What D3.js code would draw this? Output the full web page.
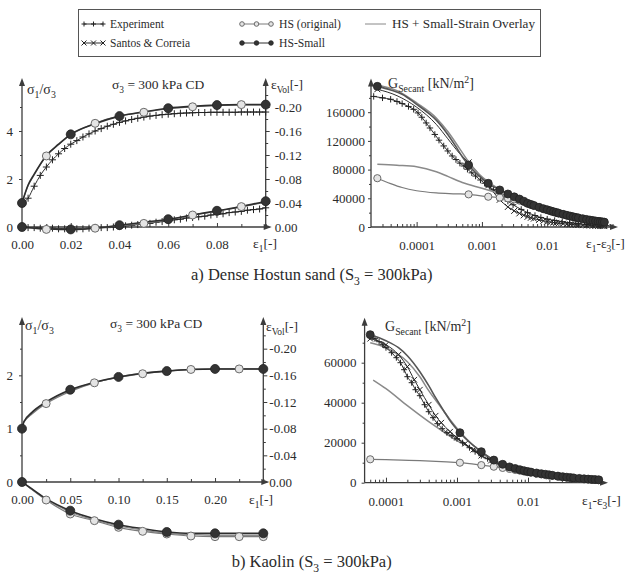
<!DOCTYPE html>
<html><head><meta charset="utf-8">
<script src="https://cdn.jsdelivr.net/npm/d3@7/dist/d3.min.js"></script>
<style>
body{margin:0;background:#fff}
svg{display:block}
</style>
</head><body>
<svg id="c" width="632" height="576"></svg>
<script>
// ================= DATA =================
const legendLabels = ["Experiment","Santos & Correia","HS (original)","HS-Small","HS + Small-Strain Overlay"];

// ---- Panel a (Dense Hostun sand) : stress ratio / volumetric strain vs eps1
const aExpEps = [0,0.0025,0.005,0.0075,0.01,0.0125,0.015,0.0175,0.02,0.0225,0.025,0.0275,0.03,0.0325,0.035,0.0375,0.04,0.0425,0.045,0.0475,0.05,0.0525,0.055,0.0575,0.06,0.0625,0.065,0.0675,0.07,0.0725,0.075,0.0775,0.08,0.0825,0.085,0.0875,0.09,0.0925,0.095,0.0975,0.1];
const aExpRatio = [1.0,1.2,1.7,2.15,2.5,2.8,3.05,3.27,3.45,3.6,3.75,3.88,4.0,4.1,4.2,4.28,4.36,4.42,4.48,4.53,4.58,4.62,4.65,4.68,4.7,4.72,4.74,4.75,4.76,4.77,4.77,4.78,4.78,4.78,4.78,4.78,4.79,4.79,4.79,4.79,4.79];
const aExpVol = [0,0.001,0.001,0.002,0.002,0.002,0.003,0.003,0.003,0.003,0.003,0.002,0.002,0.001,0.001,0.0,-0.001,-0.002,-0.003,-0.004,-0.005,-0.006,-0.008,-0.009,-0.011,-0.012,-0.013,-0.015,-0.016,-0.017,-0.018,-0.02,-0.021,-0.022,-0.024,-0.025,-0.026,-0.028,-0.029,-0.03,-0.032];
const aModelEps = [0,0.0025,0.005,0.01,0.015,0.02,0.03,0.04,0.05,0.06,0.07,0.08,0.09,0.1];
const aHsSmallRatio = [1.0,1.75,2.2,2.98,3.45,3.86,4.3,4.62,4.8,4.95,5.03,5.08,5.1,5.1];
const aHsOrigRatio  = [1.0,1.72,2.17,2.96,3.43,3.84,4.32,4.63,4.78,4.93,5.01,5.07,5.1,5.1];
const aHsSmallVol = [0,0.001,0.002,0.003,0.004,0.004,0.002,-0.003,-0.008,-0.013,-0.02,-0.027,-0.034,-0.043];
const aHsOrigVol  = [0,0.001,0.002,0.004,0.004,0.004,0.002,-0.002,-0.006,-0.012,-0.02,-0.026,-0.034,-0.041];
const aHsSmallMarkEps = [0,0.02,0.04,0.06,0.08,0.1];
const aHsOrigMarkEps = [0.01,0.03,0.05,0.07,0.09];

// ---- Panel a : secant shear modulus vs eps1-eps3 (log)
const aSimStrain = [0.000625,0.00125,0.001875,0.0025,0.003125,0.00375,0.004375,0.005,0.005625,0.00625,0.0075,0.00875,0.01,0.01125,0.0125,0.01375,0.015,0.0175,0.02,0.0225,0.025,0.0275,0.03,0.035,0.04,0.045,0.05,0.055,0.06,0.065,0.07,0.075];
const aHsSmallPreStrain = [2.5e-5,4e-5,6e-5,1e-4,1.5e-4,2e-4,3e-4,4e-4,5e-4];
const aHsSmallPreG = [196000,191000,185000,171000,159000,149000,129000,112000,98000];
const aHsSmallSimG = [86400,60900,51600,46000,42000,39000,36000,33000,31500,30000,27500,25500,24000,22500,21300,20300,19300,17700,16300,15200,14200,13400,12700,11500,10500,9700,9000,8400,7900,7500,7100,6800];
const aHsOrigPreStrain = [2.5e-5,4e-5,6e-5,1e-4,2e-4,4e-4];
const aHsOrigPreG = [68000,60500,55000,50500,47500,46300];
const aHsOrigSimG = [45500,42200,41000,40000,38500,36800,35000,32800,31200,29700,27300,25300,23800,22300,21100,20100,19100,17500,16100,15000,14000,13200,12500,11300,10300,9500,8800,8200,7700,7300,6900,6600];
const aSantosPreStrain = [2.5e-5,5e-5,1e-4,2e-4,3e-4,4.5e-4];
const aSantosPreG = [192000,183000,167000,143000,123000,103000];
const aSantosSimG = [90000,58000,38000,28000,22500,19000,16300,14200,12900,11700,9900,8600,7600,6800,6200,5700,5300,4600,4100,3700,3400,3100,2900,2600,2300,2100,1900,1750,1600,1500,1400,1300];
const aExpGStrain = [2.2e-5,3e-5,4e-5,5e-5,6e-5,7.5e-5,9e-5,1.05e-4,1.2e-4,1.4e-4,1.6e-4,1.9e-4,2.2e-4,2.6e-4,3e-4,3.5e-4,4e-4,4.6e-4,5.3e-4,6e-4,7e-4,8e-4,9.5e-4,1.1e-3,1.3e-3,1.5e-3,1.8e-3,2.1e-3,2.5e-3,3e-3,4e-3,5e-3,6.5e-3,8e-3,0.01,0.013,0.017,0.022,0.03,0.04,0.05,0.065,0.08];
const aExpG = [182000,180000,178000,175000,172000,168000,164000,159000,153000,145000,138000,129000,121000,113000,106000,99000,94000,89000,85000,80500,75500,71000,65500,61000,56500,52000,46500,41500,36000,31000,24500,20000,16000,13200,11000,9000,7200,5800,4500,3500,2900,2300,1900];
const aOverlayTopStrain = [2.5e-5,5e-5,1e-4,2e-4,3e-4,4.5e-4,6.25e-4,9e-4,1.25e-3,1.875e-3,2.5e-3,3.5e-3,5e-3,0.0075,0.01,0.015,0.025,0.04,0.075];
const aOverlayTopG = [198000,190000,173000,152000,133000,110000,91000,74000,63000,52500,46500,40000,33500,27800,24300,19500,14400,10600,6900];
const aOverlayLowStrain = [2.5e-5,5e-5,1e-4,2e-4,3e-4,5e-4,1e-3,2e-3,3e-3,5e-3,0.0075,0.01,0.015,0.025,0.04,0.075];
const aOverlayLowG = [87400,86000,84000,77000,70500,62000,54000,46000,41500,33500,27800,24300,19500,14400,10600,6900];

// ---- Panel b (Kaolin) : stress ratio / volumetric strain vs eps1
const bModelEps = [0,0.002,0.01,0.025,0.05,0.075,0.1,0.125,0.15,0.175,0.2,0.225,0.25];
const bHsSmallRatio = [1.0,1.13,1.3,1.5,1.73,1.87,1.97,2.04,2.08,2.11,2.12,2.12,2.12];
const bHsOrigRatio  = [1.1,1.14,1.27,1.47,1.7,1.86,1.96,2.03,2.08,2.11,2.12,2.12,2.12];
const bOverlayRatio = [1.05,1.12,1.28,1.49,1.72,1.86,1.97,2.04,2.08,2.11,2.12,2.12,2.12];
const bHsSmallVol = [0,0.002,0.01,0.025,0.043,0.055,0.064,0.07,0.075,0.077,0.077,0.077,0.077];
const bHsOrigVol  = [0,0.002,0.011,0.027,0.048,0.058,0.068,0.074,0.078,0.081,0.082,0.082,0.082];
const bOverlayVol = [0,0.002,0.011,0.026,0.045,0.057,0.066,0.072,0.077,0.079,0.08,0.08,0.08];
const bHsSmallMarkEps = [0,0.05,0.1,0.15,0.2,0.25];
const bHsOrigMarkRatioEps = [0.025,0.075,0.125,0.175,0.225];
const bHsOrigMarkVolEps = [0.025,0.05,0.075,0.1,0.125,0.15,0.175,0.2,0.225,0.25];

// ---- Panel b : secant shear modulus vs eps1-eps3 (log)
const bSimStrain = [0.0011,0.0022,0.0033,0.0044,0.0055,0.0066,0.0077,0.0088,0.0099,0.011,0.0132,0.0154,0.0176,0.0198,0.022,0.0264,0.0308,0.0352,0.0396,0.044,0.0528,0.0616,0.0704,0.0792,0.088,0.099];
const bHsSmallPreStrain = [6e-5,8e-5,1e-4,1.5e-4,2e-4,3e-4,4e-4,5e-4,6.5e-4,8e-4];
const bHsSmallPreG = [74000,72500,71000,67500,63500,55500,48500,42500,36000,31000];
const bHsSmallSimG = [25000,15500,11300,9200,7900,7100,6500,6000,5600,5300,4850,4500,4200,3950,3700,3300,3000,2750,2550,2400,2150,1950,1800,1650,1550,1450];
const bHsOrigPreStrain = [6e-5,1e-4,3e-4,6e-4];
const bHsOrigPreG = [11700,11500,11000,10500];
const bHsOrigSimG = [10000,8800,8000,7400,6900,6400,6000,5600,5300,5000,4500,4150,3850,3600,3400,3000,2750,2550,2350,2200,1950,1750,1600,1500,1400,1300];
const bExpGStrain = [6e-5,7e-5,8e-5,9e-5,1e-4,1.2e-4,1.4e-4,1.6e-4,1.8e-4,2e-4,2.3e-4,2.6e-4,3e-4,3.5e-4,4e-4,4.6e-4,5.3e-4,6.2e-4,7.2e-4,8.5e-4,1e-3,1.2e-3,1.5e-3,1.8e-3,2.2e-3,2.7e-3,3.3e-3,4e-3,5e-3,6e-3,7.5e-3,0.01,0.013,0.017,0.022,0.03,0.04,0.055,0.075,0.1];
const bExpG = [73000,72000,70500,69000,67500,65000,62500,60000,56500,53000,50000,46500,43500,39000,35500,32500,29500,27000,25000,23500,22000,20000,17500,15500,13500,12000,10500,9300,8000,7100,6200,5200,4400,3700,3100,2500,2000,1600,1300,1100];
const bSantosStrain = [6e-5,1e-4,1.5e-4,2e-4,2.5e-4,3e-4,4e-4,5e-4,6e-4,8e-4,1e-3,1.3e-3,1.7e-3,2.2e-3,3e-3,4e-3,5.5e-3,7.5e-3,0.01,0.014,0.02,0.03,0.045,0.07,0.1];
const bSantosG = [72000,69000,64000,58000,51500,46500,39000,33500,30000,25500,22500,19500,16500,13500,11000,9000,7300,6000,5000,4000,3100,2400,1800,1350,1100];
const bOverlayMidStrain = [6e-5,1e-4,2e-4,3e-4,4e-4,6e-4,8e-4,1.1e-3,1.6e-3,2.2e-3,3.3e-3,5e-3,0.01,0.02,0.05,0.1];
const bOverlayMidG = [70000,67500,60500,53000,46000,37500,31500,25500,19500,15500,11300,8200,5500,3900,2100,1400];
const bOverlayLowStrain = [6.6e-5,1e-4,2e-4,4e-4,6.4e-4,1e-3,1.9e-3,3e-3,5e-3,0.01,0.02,0.05,0.1];
const bOverlayLowG = [51300,47000,38500,30500,25500,21000,16000,12000,8500,5600,3900,2100,1400];

// Tick values / labels
const aRatioTicks = [0,2,4];
const aRatioMinor = [1,3,5];
const aVolTicks = [0,-0.04,-0.08,-0.12,-0.16,-0.2];
const aVolMinor = [-0.02,-0.06,-0.1,-0.14,-0.18,-0.22];
const aEpsTicks = [0,0.02,0.04,0.06,0.08];
const aEpsMinor = [0.01,0.03,0.05,0.07,0.09,0.1];
const aGTicks = [0,40000,80000,120000,160000];
const aGMinor = [20000,60000,100000,140000,180000];
const bRatioTicks = [0,1,2];
const bRatioMinor = [0.5,1.5,2.5];
const bVolTicks = [0,-0.04,-0.08,-0.12,-0.16,-0.2];
const bVolMinor = [-0.02,-0.06,-0.1,-0.14,-0.18,-0.22];
const bEpsTicks = [0,0.05,0.1,0.15,0.2];
const bEpsMinor = [0.025,0.075,0.125,0.175,0.225,0.25];
const bGTicks = [0,20000,40000,60000];
const bGMinor = [10000,30000,50000,70000];
const strainTicks = [1e-4,1e-3,1e-2];
const strainTickLabels = ["0.0001","0.001","0.01"];

// ================= DRAWING =================
const FONT = "'Liberation Serif', 'DejaVu Serif', 'Noto Serif', Tinos, serif";
const svg = d3.select('#c').attr('font-family', FONT);
const AX = '#3c3c3c';
const DARK = '#2e2e2e';
const GRAYL = '#7a7a7a';
const TXT = '#2b2b2b';

function richText(g, x, y, parts, size, anchor) {
  const t = g.append('text').attr('x', x).attr('y', y).attr('font-size', size)
    .attr('font-family', FONT).attr('fill', TXT);
  if (anchor) t.attr('text-anchor', anchor);
  let cur = 0;
  parts.forEach(([s, k]) => {
    const off = k === 'sub' ? size * 0.28 : (k === 'sup' ? -size * 0.38 : 0);
    t.append('tspan').attr('dy', off - cur).attr('font-size', k === 'n' ? size : size * 0.7).text(s);
    cur = off;
  });
  return t;
}
function arrowUp(g, x, y) {
  g.append('path').attr('d', `M${x},${y - 5}L${x - 3},${y + 3}L${x + 3},${y + 3}Z`).attr('fill', AX);
}
function arrowRight(g, x, y) {
  g.append('path').attr('d', `M${x + 5},${y}L${x - 3},${y - 3}L${x - 3},${y + 3}Z`).attr('fill', AX);
}
function vline(g, x, y1, y2) { g.append('line').attr('x1', x).attr('x2', x).attr('y1', y1).attr('y2', y2).attr('stroke', AX).attr('stroke-width', 1.3); }
function hline(g, y, x1, x2) { g.append('line').attr('x1', x1).attr('x2', x2).attr('y1', y).attr('y2', y).attr('stroke', AX).attr('stroke-width', 1.3); }
function styleAxis(sel, size) {
  sel.select('.domain').remove();
  sel.attr('font-family', FONT);
  sel.selectAll('line').attr('stroke', AX).attr('stroke-width', 1);
  sel.selectAll('text').attr('font-family', FONT).attr('font-size', size).attr('fill', TXT);
}
function drawLine(g, xs, ys, xS, yS, stroke, w) {
  g.append('path').datum(d3.zip(xs, ys)).attr('fill', 'none').attr('stroke', stroke).attr('stroke-width', w)
    .attr('stroke-linejoin', 'round')
    .attr('d', d3.line().x(d => xS(d[0])).y(d => yS(d[1])).curve(d3.curveMonotoneX));
}
function drawMarks(g, pts, xS, yS, type, r) {
  const sel = g.append('g').selectAll('g').data(pts).join('g')
    .attr('transform', d => `translate(${xS(d[0])},${yS(d[1])})`);
  if (type === 'filled') sel.append('circle').attr('r', r).attr('fill', '#333').attr('stroke', '#222').attr('stroke-width', 0.8);
  else if (type === 'open') sel.append('circle').attr('r', r).attr('fill', '#e4e4e4').attr('stroke', '#6a6a6a').attr('stroke-width', 1);
  else if (type === 'plus') sel.append('path').attr('d', `M${-r},0H${r}M0,${-r}V${r}`).attr('stroke', '#222').attr('stroke-width', 1);
  else if (type === 'cross') sel.append('path').attr('d', `M${-r},${-r}L${r},${r}M${-r},${r}L${r},${-r}`).attr('stroke', '#222').attr('stroke-width', 1);
}
function pick(xs, ys, which) { return which.map(v => [v, ys[xs.indexOf(v)]]); }

// ---------- Legend ----------
(function () {
  const g = svg.append('g');
  g.append('rect').attr('x', 78.5).attr('y', 9.5).attr('width', 462).attr('height', 47).attr('fill', 'none').attr('stroke', '#555').attr('stroke-width', 1);
  const lx = d3.scaleLinear([0, 1], [0, 1]);
  const items = [
    {x0: 84, x1: 103, y: 24, type: 'plus', line: DARK, label: legendLabels[0], tx: 110, w: 54},
    {x0: 84, x1: 103, y: 43, type: 'cross', line: DARK, label: legendLabels[1], tx: 110, w: 80},
    {x0: 242, x1: 271, y: 24, type: 'open', line: GRAYL, label: legendLabels[2], tx: 279, w: 62},
    {x0: 242, x1: 271, y: 43, type: 'filled', line: DARK, label: legendLabels[3], tx: 279, w: 46},
    {x0: 365, x1: 386, y: 24, type: null, line: '#888', label: legendLabels[4], tx: 392, w: 143}
  ];
  items.forEach(it => {
    g.append('line').attr('x1', it.x0).attr('x2', it.x1).attr('y1', it.y).attr('y2', it.y).attr('stroke', it.line).attr('stroke-width', 1);
    if (it.type) {
      const mid = (it.x0 + it.x1) / 2;
      drawMarks(g, [[it.x0, it.y], [mid, it.y], [it.x1, it.y]], lx, lx, it.type, it.type === 'plus' || it.type === 'cross' ? 2.5 : 2.3);
    }
    richText(g, it.tx, it.y + 4, [[it.label, 'n']], 12.5)
      .attr('textLength', it.w).attr('lengthAdjust', 'spacingAndGlyphs');
  });
})();

// ---------- generic left panel ----------
function leftPanel(o) {
  const g = svg.append('g');
  const x = d3.scaleLinear(o.xDom, o.xRange);
  const yL = d3.scaleLinear(o.yLDom, o.yRange);
  const yR = d3.scaleLinear(o.yRDom, o.yRange);
  const y0 = o.yRange[0], yTop = o.yRange[1];
  const xl = o.xRange[0], xr = o.xRange[1];
  vline(g, xl, y0, yTop + 1); arrowUp(g, xl, yTop);
  vline(g, xr, y0, yTop + 1); arrowUp(g, xr, yTop);
  hline(g, y0, xl, xr + 1); arrowRight(g, xr + 1, y0);
  styleAxis(g.append('g').attr('transform', `translate(${xl},0)`).call(d3.axisLeft(yL).tickValues(o.lTicks).tickSize(3).tickPadding(o.lPad).tickSizeOuter(0).tickFormat(d => String(d))), 13);
  styleAxis(g.append('g').attr('transform', `translate(${xl},0)`).call(d3.axisLeft(yL).tickValues(o.lMinor).tickSize(2).tickSizeOuter(0).tickFormat('')), 13);
  styleAxis(g.append('g').attr('transform', `translate(${xr},0)`).call(d3.axisRight(yR).tickValues(o.rTicks).tickSize(4).tickPadding(o.rPad).tickSizeOuter(0)
    .tickFormat(d => d === 0 ? '0.00' : '-' + Math.abs(d).toFixed(2))), 13);
  styleAxis(g.append('g').attr('transform', `translate(${xr},0)`).call(d3.axisRight(yR).tickValues(o.rMinor).tickSize(2.5).tickSizeOuter(0).tickFormat('')), 13);
  styleAxis(g.append('g').attr('transform', `translate(0,${y0})`).call(d3.axisBottom(x).tickValues(o.xTicks).tickSize(-4).tickPadding(13).tickSizeOuter(0).tickFormat(d3.format('.2f'))), 13);
  styleAxis(g.append('g').attr('transform', `translate(0,${y0})`).call(d3.axisBottom(x).tickValues(o.xMinor).tickSize(-3).tickSizeOuter(0).tickFormat('')), 13);
  return {g, x, yL, yR};
}

// ---------- generic G panel ----------
function gPanel(o) {
  const g = svg.append('g');
  const x = d3.scaleLog(o.xDom, o.xRange);
  const y = d3.scaleLinear(o.yDom, o.yRange);
  const y0 = o.yRange[0], yTop = o.yRange[1];
  const xl = o.xRange[0];
  vline(g, xl, y0, yTop + 1); arrowUp(g, xl, yTop);
  hline(g, y0, xl, o.xEnd); arrowRight(g, o.xEnd, y0);
  styleAxis(g.append('g').attr('transform', `translate(${xl},0)`).call(d3.axisLeft(y).tickValues(o.yTicks).tickSize(3).tickPadding(o.yPad).tickSizeOuter(0).tickFormat(d => String(d))), 13);
  styleAxis(g.append('g').attr('transform', `translate(${xl},0)`).call(d3.axisLeft(y).tickValues(o.yMinor).tickSize(2).tickSizeOuter(0).tickFormat('')), 13);
  const minor = x.ticks().filter(v => strainTicks.indexOf(v) < 0 && v > o.xDom[0] * 1.01);
  styleAxis(g.append('g').attr('transform', `translate(0,${y0})`).call(d3.axisBottom(x).tickValues(strainTicks).tickSize(-5).tickPadding(14).tickSizeOuter(0)
    .tickFormat((d, i) => strainTickLabels[i])), 13);
  styleAxis(g.append('g').attr('transform', `translate(0,${y0})`).call(d3.axisBottom(x).tickValues(minor).tickSize(-3).tickSizeOuter(0).tickFormat('')), 13);
  return {g, x, y};
}

// ================= Panel a-left =================
(function () {
  const {g, x, yL, yR} = leftPanel({xDom: [0, 0.1], xRange: [22, 265.7], yLDom: [0, 6], yRDom: [0, -0.24], yRange: [227, 83],
    lTicks: aRatioTicks, lMinor: aRatioMinor, rTicks: aVolTicks, rMinor: aVolMinor, xTicks: aEpsTicks, xMinor: aEpsMinor, lPad: 6, rPad: 5});
  drawLine(g, aExpEps, aExpRatio, x, yL, DARK, 1);
  drawLine(g, aExpEps, aExpVol, x, yR, DARK, 1);
  drawMarks(g, d3.zip(aExpEps, aExpRatio).slice(1), x, yL, 'plus', 3.5);
  drawMarks(g, d3.zip(aExpEps, aExpVol).slice(1), x, yR, 'plus', 3.5);
  drawLine(g, aModelEps, aHsOrigRatio, x, yL, GRAYL, 1.2);
  drawLine(g, aModelEps, aHsOrigVol, x, yR, GRAYL, 1.2);
  drawLine(g, aModelEps, aHsSmallRatio, x, yL, DARK, 1.6);
  drawLine(g, aModelEps, aHsSmallVol, x, yR, DARK, 1.6);
  drawMarks(g, pick(aModelEps, aHsOrigRatio, aHsOrigMarkEps), x, yL, 'open', 4);
  drawMarks(g, pick(aModelEps, aHsOrigVol, aHsOrigMarkEps), x, yR, 'open', 4);
  drawMarks(g, pick(aModelEps, aHsSmallRatio, aHsSmallMarkEps), x, yL, 'filled', 4.5);
  drawMarks(g, pick(aModelEps, aHsSmallVol, aHsSmallMarkEps), x, yR, 'filled', 4.5);
  richText(g, 27, 94, [['σ', 'n'], ['1', 'sub'], ['/σ', 'n'], ['3', 'sub']], 14);
  richText(g, 112, 89, [['σ', 'n'], ['3', 'sub'], [' = 300 kPa CD', 'n']], 13.5);
  richText(g, 271, 89, [['ε', 'n'], ['Vol', 'sub'], ['[-]', 'n']], 13.5);
  richText(g, 253, 248, [['ε', 'n'], ['1', 'sub'], ['[-]', 'n']], 13.5);
})();

// ================= Panel a-right =================
(function () {
  const {g, x, y} = gPanel({xDom: [2e-5, 0.1], xRange: [371, 612.5], xEnd: 613, yDom: [0, 200000], yRange: [227, 83.5],
    yTicks: aGTicks, yMinor: aGMinor, yPad: 3});
  const hsSmallS = aHsSmallPreStrain.concat(aSimStrain), hsSmallG = aHsSmallPreG.concat(aHsSmallSimG);
  const hsOrigS = aHsOrigPreStrain.concat(aSimStrain), hsOrigG = aHsOrigPreG.concat(aHsOrigSimG);
  const santosS = aSantosPreStrain.concat(aSimStrain), santosG = aSantosPreG.concat(aSantosSimG);
  drawLine(g, aExpGStrain, aExpG, x, y, DARK, 1);
  drawMarks(g, d3.zip(aExpGStrain, aExpG), x, y, 'plus', 3.2);
  drawLine(g, santosS, santosG, x, y, DARK, 1);
  drawMarks(g, [[santosS[0], santosG[0]]].concat(d3.zip(aSimStrain, aSantosSimG)), x, y, 'cross', 3);
  drawLine(g, aOverlayLowStrain, aOverlayLowG, x, y, '#8a8a8a', 1.5);
  drawLine(g, aOverlayTopStrain, aOverlayTopG, x, y, '#8a8a8a', 1.5);
  drawLine(g, hsOrigS, hsOrigG, x, y, GRAYL, 1.2);
  drawLine(g, hsSmallS, hsSmallG, x, y, '#555', 1.6);
  drawMarks(g, [[hsOrigS[0], hsOrigG[0]]].concat(d3.zip(aSimStrain, aHsOrigSimG)), x, y, 'open', 3.6);
  drawMarks(g, [[hsSmallS[0], hsSmallG[0]]].concat(d3.zip(aSimStrain, aHsSmallSimG)), x, y, 'filled', 4);
  richText(g, 388, 88, [['G', 'n'], ['Secant', 'sub'], [' [kN/m', 'n'], ['2', 'sup'], [']', 'n']], 14);
  richText(g, 586, 248, [['ε', 'n'], ['1', 'sub'], ['-ε', 'n'], ['3', 'sub'], ['[-]', 'n']], 13.5);
})();

// ================= Panel b-left =================
(function () {
  const {g, x, yL, yR} = leftPanel({xDom: [0, 0.25], xRange: [22, 263.3], yLDom: [0, 3], yRDom: [0, -0.24], yRange: [482, 322],
    lTicks: bRatioTicks, lMinor: bRatioMinor, rTicks: bVolTicks, rMinor: bVolMinor, xTicks: bEpsTicks, xMinor: bEpsMinor, lPad: 6, rPad: 2});
  drawLine(g, bModelEps, bOverlayRatio, x, yL, '#8a8a8a', 1.2);
  drawLine(g, bModelEps, bOverlayVol, x, yR, '#8a8a8a', 1.2);
  drawLine(g, bModelEps, bHsOrigRatio, x, yL, GRAYL, 1.2);
  drawLine(g, bModelEps, bHsOrigVol, x, yR, GRAYL, 1.2);
  drawLine(g, bModelEps, bHsSmallRatio, x, yL, DARK, 1.6);
  drawLine(g, bModelEps, bHsSmallVol, x, yR, DARK, 1.6);
  drawMarks(g, pick(bModelEps, bHsOrigRatio, bHsOrigMarkRatioEps), x, yL, 'open', 4);
  drawMarks(g, pick(bModelEps, bHsOrigVol, bHsOrigMarkVolEps), x, yR, 'open', 4);
  drawMarks(g, pick(bModelEps, bHsSmallRatio, bHsSmallMarkEps), x, yL, 'filled', 4.5);
  drawMarks(g, pick(bModelEps, bHsSmallVol, bHsSmallMarkEps), x, yR, 'filled', 4.5);
  richText(g, 25, 330, [['σ', 'n'], ['1', 'sub'], ['/σ', 'n'], ['3', 'sub']], 14);
  richText(g, 110, 328, [['σ', 'n'], ['3', 'sub'], [' = 300 kPa CD', 'n']], 13.5);
  richText(g, 266, 331, [['ε', 'n'], ['Vol', 'sub'], ['[-]', 'n']], 13.5);
  richText(g, 249, 504, [['ε', 'n'], ['1', 'sub'], ['[-]', 'n']], 13.5);
})();

// ================= Panel b-right =================
(function () {
  const {g, x, y} = gPanel({xDom: [5e-5, 0.1], xRange: [364.6, 599], xEnd: 603, yDom: [0, 80000], yRange: [482.7, 322.7],
    yTicks: bGTicks, yMinor: bGMinor, yPad: 5});
  const hsSmallS = bHsSmallPreStrain.concat(bSimStrain), hsSmallG = bHsSmallPreG.concat(bHsSmallSimG);
  const hsOrigS = bHsOrigPreStrain.concat(bSimStrain), hsOrigG = bHsOrigPreG.concat(bHsOrigSimG);
  drawLine(g, bOverlayLowStrain, bOverlayLowG, x, y, '#8a8a8a', 1.5);
  drawLine(g, bOverlayMidStrain, bOverlayMidG, x, y, '#8a8a8a', 1.5);
  drawLine(g, bExpGStrain, bExpG, x, y, DARK, 1);
  drawMarks(g, d3.zip(bExpGStrain, bExpG), x, y, 'plus', 3);
  drawLine(g, bSantosStrain, bSantosG, x, y, DARK, 1);
  drawMarks(g, d3.zip(bSantosStrain, bSantosG), x, y, 'cross', 2.8);
  drawLine(g, hsOrigS, hsOrigG, x, y, GRAYL, 1.2);
  drawLine(g, hsSmallS, hsSmallG, x, y, '#555', 1.6);
  drawMarks(g, [[hsOrigS[0], hsOrigG[0]]].concat(d3.zip(bSimStrain, bHsOrigSimG)), x, y, 'open', 3.6);
  drawMarks(g, [[hsSmallS[0], hsSmallG[0]]].concat(d3.zip(bSimStrain, bHsSmallSimG)), x, y, 'filled', 4);
  richText(g, 385, 331, [['G', 'n'], ['Secant', 'sub'], [' [kN/m', 'n'], ['2', 'sup'], [']', 'n']], 14);
  richText(g, 582, 505, [['ε', 'n'], ['1', 'sub'], ['-ε', 'n'], ['3', 'sub'], ['[-]', 'n']], 13.5);
})();

// ---------- captions ----------
richText(svg, 311.7, 280, [['a) Dense Hostun sand (S', 'n'], ['3', 'sub'], [' = 300kPa)', 'n']], 16.5, 'middle');
richText(svg, 311.7, 567, [['b) Kaolin (S', 'n'], ['3', 'sub'], [' = 300kPa)', 'n']], 16.5, 'middle');
</script>
</body></html>
